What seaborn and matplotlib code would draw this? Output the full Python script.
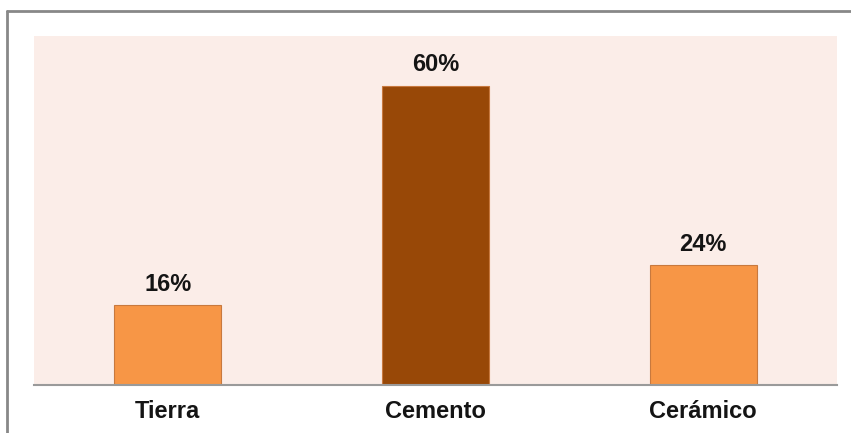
import matplotlib
matplotlib.use("Agg")
import matplotlib.pyplot as plt
from matplotlib.lines import Line2D
import pandas as pd
import seaborn as sns

# data
categories = ["Tierra", "Cemento", "Cerámico"]
values = [16, 60, 24]
labels = ["16%", "60%", "24%"]
bar_colors = ["#F79646", "#984807", "#F79646"]

sns.set_style("white")
plt.rcParams['font.family'] = ['Liberation Sans', 'DejaVu Sans']

df = pd.DataFrame({"cat": categories, "val": values})

fig = plt.figure(figsize=(8.51, 4.33), dpi=100)
ax = fig.add_axes([34 / 851, 48 / 433, 803 / 851, 349 / 433])
ax.set_facecolor("#FBEDE8")

sns.barplot(data=df, x="cat", y="val", hue="cat", palette=bar_colors,
            width=0.40, legend=False, ax=ax, saturation=1,
            edgecolor="#C8793E", linewidth=0.8)

for i, p in enumerate(ax.patches):
    ax.annotate(labels[i], (p.get_x() + p.get_width() / 2, p.get_height()),
                xytext=(0, 7), textcoords="offset points",
                ha="center", va="bottom", fontsize=17, fontweight="bold",
                color="#141414")

ax.set_xlim(-0.5, 2.5)
ax.set_ylim(0, 70)
ax.set_yticks([])
ax.set_xlabel("")
ax.set_ylabel("")
ax.tick_params(axis="x", length=0, pad=11, labelsize=17)
for t in ax.get_xticklabels():
    t.set_fontweight("bold")
    t.set_color("#141414")

for s in ["top", "right", "left"]:
    ax.spines[s].set_visible(False)
ax.spines["bottom"].set_color("#9a9a9a")
ax.spines["bottom"].set_linewidth(1.5)

# outer frame (top and left edges only visible)
fig.add_artist(Line2D([7 / 851, 7 / 851], [0, 1 - 11 / 433],
                      transform=fig.transFigure, color="#888888", lw=2))
fig.add_artist(Line2D([7 / 851, 1], [1 - 11 / 433, 1 - 11 / 433],
                      transform=fig.transFigure, color="#888888", lw=2))

fig.savefig("out.png", dpi=100)
